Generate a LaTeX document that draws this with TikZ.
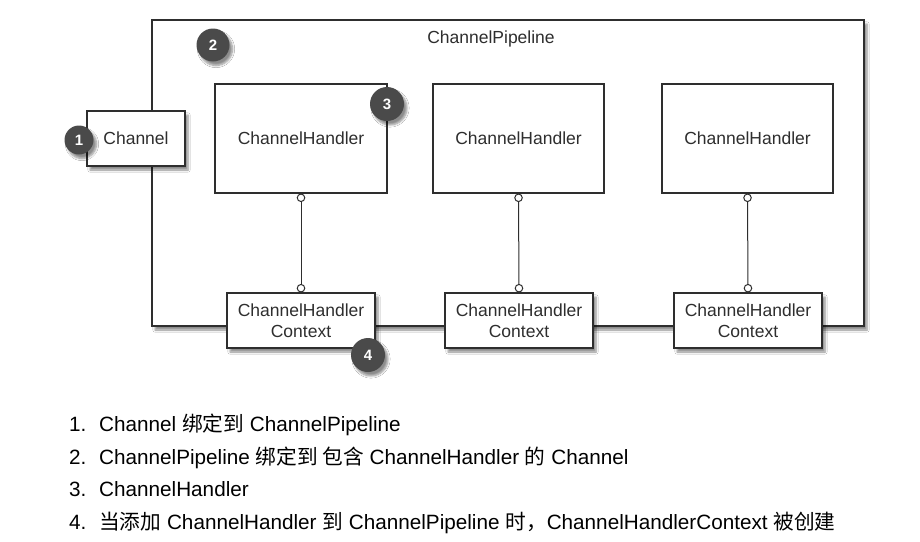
\documentclass[tikz,border=0pt]{standalone}
\usepackage{fontspec}
\setmainfont{Liberation Sans}
\newfontfamily\cjk{Noto Sans CJK SC}
\usetikzlibrary{arrows.meta,shadows.blur}
\definecolor{ink}{HTML}{2E2E2E}
\definecolor{badge}{HTML}{4A4A4A}
\begin{document}
\begin{tikzpicture}[x=1pt,y=-1pt,
  shade/.style={blur shadow={shadow xshift=3pt,shadow yshift=-4pt,shadow blur steps=6,shadow opacity=45}},
  boxstyle/.style={draw=ink,line width=1.1pt,fill=white,text=ink,font=\fontsize{17.5}{21}\selectfont},
  badgestyle/.style={circle,fill=badge,text=white,font=\bfseries\fontsize{15}{15}\selectfont,inner sep=0pt,minimum size=#1},
  badgestyle/.default=32pt,
  link/.style={draw=ink,line width=1pt,{Circle[open,length=8.5pt,width=8.5pt,fill=white]}-{Circle[open,length=8.5pt,width=8.5pt,fill=white]}},
  listtext/.style={anchor=base west,inner sep=0pt,text=black,font=\fontsize{20.7}{24}\selectfont}
]
\useasboundingbox (0,0) rectangle (920,541);
\fill[white] (0,0) rectangle (920,541);
% pipeline
\node[boxstyle,shade,minimum width=712pt,minimum height=306pt,inner sep=0pt] (pipe) at (508,173) {};
\node[text=ink,font=\fontsize{17.5}{21}\selectfont,inner sep=0pt] (pipetitle) at (491,39) {ChannelPipeline};
% channel
\node[boxstyle,shade,minimum width=98pt,minimum height=55pt,inner sep=0pt] (chan) at (136,138.5) {Channel};
% handlers
\node[boxstyle,minimum width=172pt,minimum height=109pt,inner sep=0pt] (h1) at (301,138.5) {ChannelHandler};
\node[boxstyle,minimum width=171pt,minimum height=109pt,inner sep=0pt] (h2) at (518.5,138.5) {ChannelHandler};
\node[boxstyle,minimum width=171pt,minimum height=109pt,inner sep=0pt] (h3) at (747.5,138.5) {ChannelHandler};
% contexts
\node[boxstyle,shade,minimum width=148pt,minimum height=55pt,inner sep=0pt,align=center] (c1) at (301,320.5) {ChannelHandler\\Context};
\node[boxstyle,shade,minimum width=148pt,minimum height=55pt,inner sep=0pt,align=center] (c2) at (519,320.5) {ChannelHandler\\Context};
\node[boxstyle,shade,minimum width=148pt,minimum height=55pt,inner sep=0pt,align=center] (c3) at (748,320.5) {ChannelHandler\\Context};
% links
\draw[link] (h1.south) -- (c1.north);
\draw[link] (h2.south) -- (c2.north);
\draw[link] (h3.south) -- (c3.north);
% badges
\node[badgestyle=29pt,shade] (b1) at (79,140) {1};
\node[badgestyle=33pt,shade] (b2) at (213,45) {2};
\node[badgestyle=34pt,shade] (b3) at (387,104) {3};
\node[badgestyle=34pt,shade] (b4) at (368,355) {4};
% list
\node[listtext] (n1) at (69,431.5) {1.};
\node[listtext] (t1) at (99,431.5) {Channel {\cjk 绑定到} ChannelPipeline};
\node[listtext] (n2) at (69,464.5) {2.};
\node[listtext] (t2) at (99,464.5) {ChannelPipeline {\cjk 绑定到 包含} ChannelHandler {\cjk 的} Channel};
\node[listtext] (n3) at (69,496.5) {3.};
\node[listtext] (t3) at (99,496.5) {ChannelHandler};
\node[listtext] (n4) at (69,529.5) {4.};
\node[listtext] (t4) at (99,529.5) {{\cjk 当添加} ChannelHandler {\cjk 到} ChannelPipeline {\cjk 时，}ChannelHandlerContext {\cjk 被创建}};
\end{tikzpicture}
\end{document}
